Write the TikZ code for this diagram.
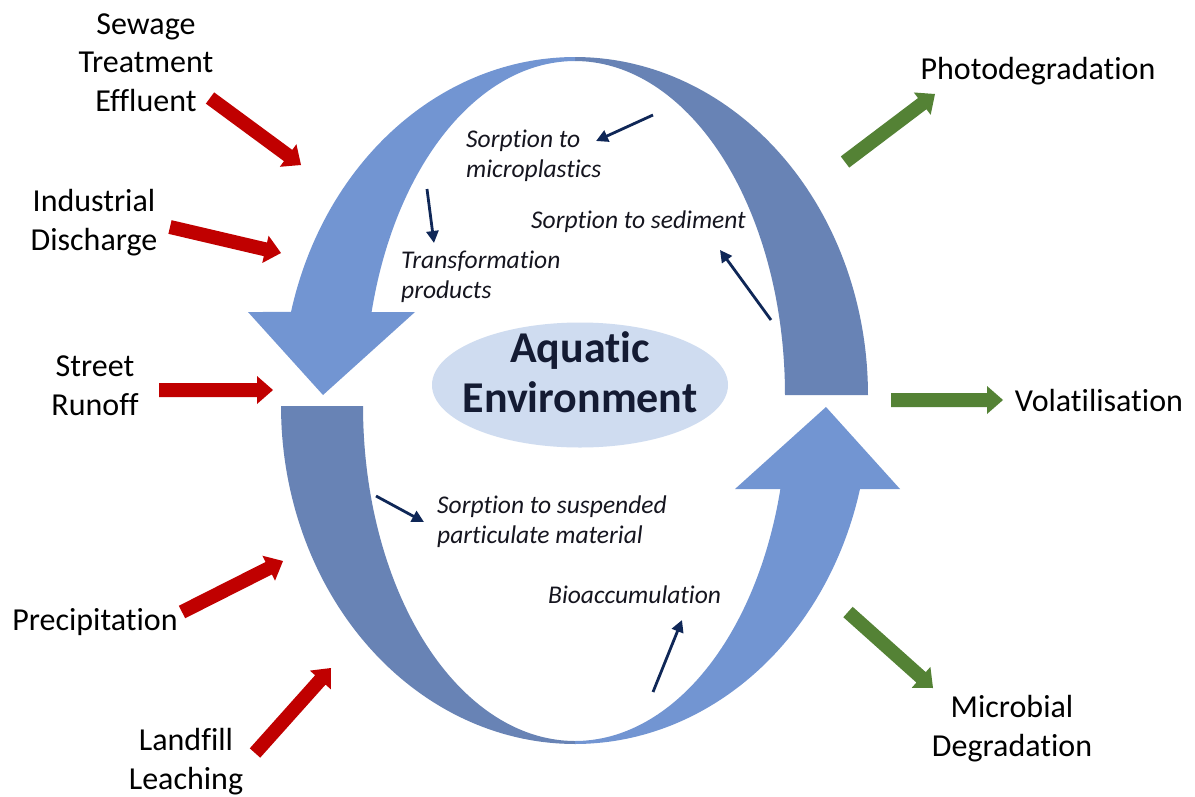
\documentclass[tikz,border=0pt]{standalone}
\usepackage{fontspec}
\setmainfont{Carlito}[Ligatures=NoCommon]
\usetikzlibrary{arrows.meta,calc,shapes.geometric}
\definecolor{lightarc}{HTML}{7295D2}
\definecolor{darkarc}{HTML}{6883B5}
\definecolor{ellfill}{HTML}{CFDCF0}
\definecolor{redarr}{HTML}{C00000}
\definecolor{greenarr}{HTML}{548235}
\definecolor{navy}{HTML}{0F2757}
\definecolor{boldtext}{HTML}{141B33}
\definecolor{itext}{HTML}{15151F}
\newcommand{\blockarrow}[3]{%
  \coordinate (ba-h) at ($(#3)!16pt!(#2)$);
  \fill[#1] ($(#2)!7pt!90:(#3)$) -- ($(ba-h)!7pt!90:(#3)$) -- ($(ba-h)!14pt!90:(#3)$) -- (#3)
    -- ($(ba-h)!14pt!-90:(#3)$) -- ($(ba-h)!7pt!-90:(#3)$) -- ($(#2)!7pt!-90:(#3)$) -- cycle;}
\begin{document}
\begin{tikzpicture}[x=1pt,y=-1pt,
  process/.style={draw=navy, line width=2.8pt, -{Triangle[length=12pt,width=12pt]}},
  lbl/.style={font=\fontsize{32}{38.5}\selectfont, align=center, inner sep=0pt, anchor=base},
  itl/.style={font=\fontsize{25.5}{29.5}\selectfont\itshape, text=itext, align=left, inner sep=0pt, anchor=base west},
]
\fill[white] (0,0) rectangle (1195,796);
\useasboundingbox (0,0) rectangle (1195,796);

% top curved arrow
\fill[darkarc] plot[domain=-90:0, samples=70, variable=\t] ({575+293*cos(\t)},{395+338*sin(\t)})
  -- plot[domain=0:-90, samples=70, variable=\t] ({575+210*cos(\t)},{395+334*sin(\t)}) -- cycle;
\fill[lightarc] plot[domain=-90:-165.78, samples=70, variable=\t] ({575+293*cos(\t)},{395+338*sin(\t)})
  -- (248,312) -- (323,395) -- (415,312)
  -- plot[domain=-165.61:-90, samples=70, variable=\t] ({575+210*cos(\t)},{395+334*sin(\t)}) -- cycle;

% bottom curved arrow
\fill[darkarc] plot[domain=180:90, samples=70, variable=\t] ({575+294*cos(\t)},{406+338*sin(\t)})
  -- plot[domain=90:180, samples=70, variable=\t] ({575+212*cos(\t)},{406+335*sin(\t)}) -- cycle;
\fill[lightarc] plot[domain=90:14.22, samples=70, variable=\t] ({575+294*cos(\t)},{406+338*sin(\t)})
  -- (900,489) -- (826,407) -- (735,489)
  -- plot[domain=14.35:90, samples=70, variable=\t] ({575+212*cos(\t)},{406+335*sin(\t)}) -- cycle;

% centre
\node[ellipse, fill=ellfill, minimum width=296pt, minimum height=125pt, inner sep=0pt] (env) at (580,385) {};
\node[font=\fontsize{44}{50}\selectfont\bfseries, text=boldtext, align=center, inner sep=0pt, anchor=base] (envtext) at (580,412) {Aquatic\\Environment};

% inner processes
\node[itl] (micro) at (466,177) {Sorption to\\microplastics};
\node[itl] (sed) at (531,228) {Sorption to sediment};
\node[itl] (trans) at (401,298) {Transformation\\products};
\node[itl] (susp) at (437,543) {Sorption to suspended\\particulate material};
\node[itl] (bio) at (548,603) {Bioaccumulation};

\coordinate (microS) at (653,115); \coordinate (microE) at (596,141);
\coordinate (transS) at (427,189); \coordinate (transE) at (434,243);
\coordinate (sedS) at (771,320);   \coordinate (sedE) at (720,250);
\coordinate (suspS) at (376,496);  \coordinate (suspE) at (424,522);
\coordinate (bioS) at (653,692);   \coordinate (bioE) at (682,620);
\draw[process] (microS) -- (microE);
\draw[process] (transS) -- (transE);
\draw[process] (sedS) -- (sedE);
\draw[process] (suspS) -- (suspE);
\draw[process] (bioS) -- (bioE);

% sources
\node[lbl] (sewage) at (146,111) {Sewage\\Treatment\\Effluent};
\node[lbl] (indus) at (94,250) {Industrial\\Discharge};
\node[lbl] (street) at (95,415) {Street\\Runoff};
\node[lbl] (precip) at (95,630) {Precipitation};
\node[lbl] (landfill) at (186,789) {Landfill\\Leaching};

\coordinate (sewT) at (210,98);   \coordinate (sewH) at (301,165);
\coordinate (indT) at (170,227);  \coordinate (indH) at (281,253);
\coordinate (strT) at (159,390);  \coordinate (strH) at (273,390);
\coordinate (preT) at (182,612);  \coordinate (preH) at (283,561);
\coordinate (lanT) at (255,753);  \coordinate (lanH) at (331,668);
\blockarrow{redarr}{sewT}{sewH}
\blockarrow{redarr}{indT}{indH}
\blockarrow{redarr}{strT}{strH}
\blockarrow{redarr}{preT}{preH}
\blockarrow{redarr}{lanT}{lanH}

% sinks
\node[lbl] (photo) at (1038,79) {Photodegradation};
\node[lbl] (volat) at (1099,411) {Volatilisation};
\node[lbl] (microb) at (1012,756) {Microbial\\Degradation};

\coordinate (phoT) at (845,162);  \coordinate (phoH) at (935,94);
\coordinate (volT) at (891,400);  \coordinate (volH) at (1003,400);
\coordinate (micT) at (848,612);  \coordinate (micH) at (933,688);
\blockarrow{greenarr}{phoT}{phoH}
\blockarrow{greenarr}{volT}{volH}
\blockarrow{greenarr}{micT}{micH}
\end{tikzpicture}
\end{document}
